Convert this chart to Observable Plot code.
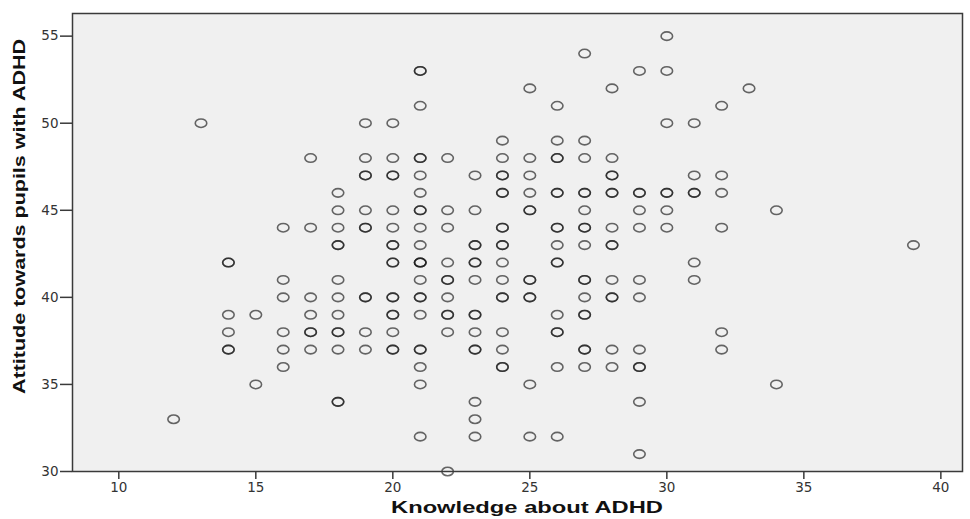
<!DOCTYPE html>
<html>
<head>
<meta charset="utf-8">
<script src="https://cdn.jsdelivr.net/npm/d3@7"></script>
<script src="https://cdn.jsdelivr.net/npm/@observablehq/plot@0.6"></script>
<style>
  html, body { margin: 0; padding: 0; background: #ffffff; }
  #chart { width: 970px; height: 519px; }
</style>
</head>
<body>
<div id="chart"></div>
<script>
// Knowledge column -> list of Attitude values; a value repeated means overlapping cases (darker ring)
const knowledgeValues = [12, 13, 14, 15, 16, 17, 18, 19, 20, 21, 22, 23, 24, 25, 26, 27, 28, 29, 30, 31, 32, 33, 34, 39];
const attitudeByKnowledge = [
  [33],
  [50],
  [42, 42, 39, 38, 37, 37],
  [39, 35],
  [44, 41, 40, 38, 37, 36],
  [48, 44, 40, 39, 38, 38, 37],
  [46, 45, 44, 43, 43, 41, 40, 39, 38, 38, 37, 34, 34],
  [50, 48, 47, 47, 45, 44, 44, 40, 40, 38, 37],
  [50, 48, 47, 47, 45, 44, 43, 43, 42, 42, 40, 40, 39, 39, 38, 37, 37],
  [53, 53, 51, 48, 48, 47, 46, 45, 45, 44, 43, 42, 42, 42, 41, 40, 40, 39, 37, 37, 36, 35, 32],
  [48, 45, 44, 42, 41, 41, 40, 39, 39, 38, 30],
  [47, 45, 43, 43, 42, 42, 41, 39, 39, 38, 37, 37, 34, 33, 32],
  [49, 48, 47, 47, 46, 46, 44, 44, 43, 43, 42, 41, 40, 40, 38, 37, 36, 36],
  [52, 48, 47, 46, 45, 45, 41, 41, 40, 40, 35, 32],
  [51, 49, 48, 48, 46, 46, 44, 44, 43, 42, 42, 39, 38, 38, 36, 32],
  [54, 49, 48, 46, 46, 45, 44, 44, 43, 41, 41, 40, 39, 39, 37, 37, 36],
  [52, 48, 47, 47, 46, 46, 44, 43, 43, 41, 40, 40, 37, 36],
  [53, 46, 46, 45, 44, 41, 40, 37, 36, 36, 34, 31],
  [55, 53, 50, 46, 46, 45, 44],
  [50, 47, 46, 46, 42, 41],
  [51, 47, 46, 44, 38, 37],
  [52],
  [45, 35],
  [43]
];
const xTicks = [10, 15, 20, 25, 30, 35, 40];
const yTicks = [30, 35, 40, 45, 50, 55];
const xLabel = "Knowledge about ADHD";
const yLabel = "Attitude towards pupils with ADHD";

const data = knowledgeValues.flatMap((k, i) => attitudeByKnowledge[i].map(a => ({knowledge: k, attitude: a})));

// slightly wide ring, as in the reference
const ring = {
  draw(context, size) {
    const r = Math.sqrt(size / Math.PI);
    const rx = r * 1.15, ry = r * 0.85, k = 0.5523;
    context.moveTo(rx, 0);
    context.bezierCurveTo(rx, k * ry, k * rx, ry, 0, ry);
    context.bezierCurveTo(-k * rx, ry, -rx, k * ry, -rx, 0);
    context.bezierCurveTo(-rx, -k * ry, -k * rx, -ry, 0, -ry);
    context.bezierCurveTo(k * rx, -ry, rx, -k * ry, rx, 0);
    context.closePath();
  }
};

const W = 970, H = 519;
const chart = Plot.plot({
  width: W,
  height: H,
  marginLeft: 72,
  marginTop: 13,
  marginRight: 8,
  marginBottom: 48,
  style: {fontFamily: "DejaVu Sans, sans-serif", fontSize: "13.5px", color: "#333", background: "#ffffff"},
  x: {domain: [8.31, 40.79], ticks: xTicks, label: null, tickSize: 8, tickPadding: 3},
  y: {domain: [30, 56.3], ticks: yTicks, label: null, tickSize: 12, tickPadding: 2},
  marks: [
    Plot.frame({fill: "#f0f0f0", stroke: "none"}),
    Plot.dot(data, {x: "knowledge", y: "attitude", symbol: ring, r: 5, fill: "none", stroke: "#1a1a1a", strokeOpacity: 0.66, strokeWidth: 1.6}),
    Plot.frame({stroke: "#3a3a3a", strokeWidth: 1.5}),
    Plot.axisX({ticks: xTicks, tickSize: 8, tickPadding: 3, stroke: "#3a3a3a", strokeWidth: 1.5, fill: "#333", label: null}),
    Plot.axisY({ticks: yTicks, tickSize: 12, tickPadding: 2, stroke: "#3a3a3a", strokeWidth: 1.5, fill: "#333", label: null})
  ]
});
document.getElementById("chart").appendChild(chart);

const svg = d3.select(chart);
svg.append("text")
  .attr("x", 527).attr("y", 513)
  .attr("text-anchor", "middle")
  .attr("font-family", "Liberation Sans, Arial, sans-serif")
  .attr("font-weight", "bold")
  .attr("font-size", 17)
  .attr("fill", "#111")
  .attr("textLength", 272)
  .attr("lengthAdjust", "spacingAndGlyphs")
  .text(xLabel);
svg.append("text")
  .attr("transform", "translate(25,216.5) rotate(-90)")
  .attr("text-anchor", "middle")
  .attr("font-family", "Liberation Sans, Arial, sans-serif")
  .attr("font-weight", "bold")
  .attr("font-size", 16)
  .attr("fill", "#111")
  .attr("textLength", 355)
  .attr("lengthAdjust", "spacingAndGlyphs")
  .text(yLabel);
</script>
</body>
</html>
